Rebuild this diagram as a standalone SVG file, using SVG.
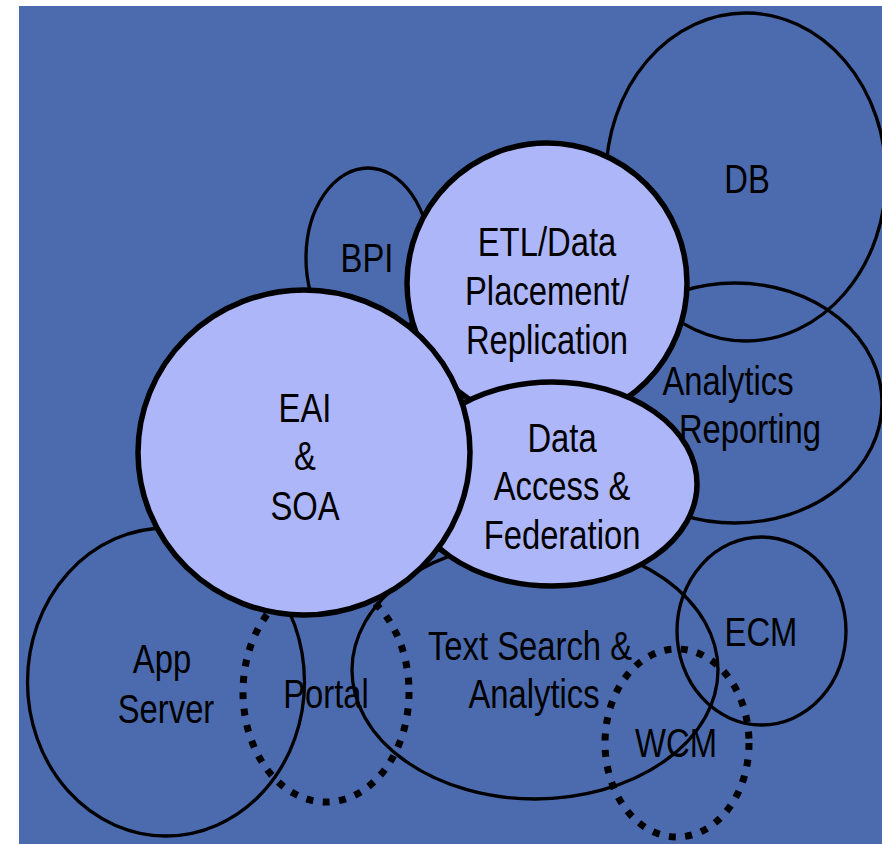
<svg xmlns="http://www.w3.org/2000/svg" width="882" height="844" viewBox="0 0 882 844">
<style>
.thin{fill:none;stroke:#000;stroke-width:3.3}
.thick{fill:#AEB6FA;stroke:#000;stroke-width:5.5}
.dot{fill:none;stroke:#000;stroke-width:7;stroke-dasharray:7 9.5}
text{font-family:"Liberation Sans",Arial,sans-serif;font-size:40px;fill:#000;text-anchor:middle}
</style>
<rect x="19" y="6" width="863" height="838" fill="#4B6BAE"/>
<g id="db"><ellipse class="thin" cx="746" cy="177" rx="140" ry="164"/><text transform="translate(747 193) scale(0.82 1)">DB</text></g>
<g id="analytics-reporting"><ellipse class="thin" cx="735" cy="403" rx="147" ry="120"/><text transform="translate(728 395) scale(0.82 1)">Analytics</text><text transform="translate(750 443) scale(0.82 1)">Reporting</text></g>
<g id="bpi"><ellipse class="thin" cx="368" cy="258" rx="62" ry="90"/><text transform="translate(367 272) scale(0.82 1)">BPI</text></g>
<g id="app-server"><ellipse class="thin" cx="166" cy="682" rx="138.5" ry="154"/><text transform="translate(162 673) scale(0.82 1)">App</text><text transform="translate(166 723) scale(0.82 1)">Server</text></g>
<g id="text-search"><ellipse class="thin" cx="535" cy="670" rx="183" ry="129"/><text transform="translate(530 660) scale(0.82 1)">Text Search &amp;</text><text transform="translate(534 708) scale(0.82 1)">Analytics</text></g>
<g id="ecm"><ellipse class="thin" cx="761.5" cy="631" rx="84.5" ry="94"/><text transform="translate(761 646) scale(0.82 1)">ECM</text></g>
<g id="portal"><ellipse class="dot" cx="326" cy="692" rx="83" ry="110"/><text transform="translate(326 708) scale(0.82 1)">Portal</text></g>
<g id="etl"><ellipse class="thick" cx="547" cy="283" rx="140" ry="140"/><text transform="translate(547 256) scale(0.82 1)">ETL/Data</text><text transform="translate(547 305) scale(0.82 1)">Placement/</text><text transform="translate(547 354) scale(0.82 1)">Replication</text></g>
<g id="data-access"><ellipse class="thick" cx="552" cy="484" rx="145" ry="102"/><text transform="translate(562 452) scale(0.82 1)">Data</text><text transform="translate(562 500) scale(0.82 1)">Access &amp;</text><text transform="translate(562 549) scale(0.82 1)">Federation</text></g>
<g id="eai-soa"><ellipse class="thick" cx="304" cy="452.5" rx="166" ry="162.5"/><text transform="translate(305 422) scale(0.82 1)">EAI</text><text transform="translate(305 470) scale(0.82 1)">&amp;</text><text transform="translate(305 520) scale(0.82 1)">SOA</text></g>
<g id="wcm"><ellipse class="dot" cx="677" cy="743" rx="72" ry="94"/><text transform="translate(676 757) scale(0.82 1)">WCM</text></g>
<g id="connectors"/>
</svg>
